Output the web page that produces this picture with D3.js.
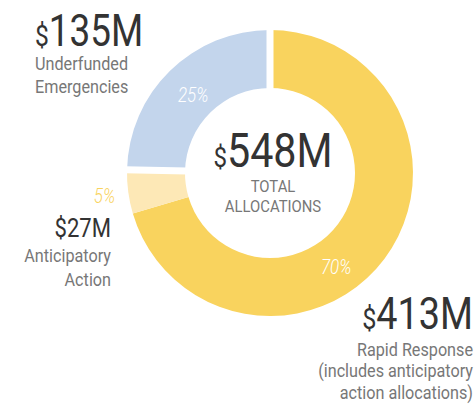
<!DOCTYPE html>
<html>
<head>
<meta charset="utf-8">
<script src="https://cdn.jsdelivr.net/npm/d3@7"></script>
<style>
  body { margin: 0; background: #fff; }
  text { font-family: Roboto, "Open Sans", sans-serif; }
</style>
</head>
<body>
<div id="my-chart"></div>
<script>
// slices of the ring (millions); rapid response shown here without the anticipatory part
var categories = ["Rapid Response", "Anticipatory Action", "Underfunded Emergencies"];
var sliceValues = [386, 27, 135];
var shares = [70, 5, 25];
// amounts written in the labels (rapid response includes anticipatory action)
var amounts = [413, 27, 135];
var total = 548;

var width = 474, height = 406;
var cx = 270, cy = 173;
var outerR = 143, innerR = 85;
var squeeze = 0.85;   // fake a condensed face with Roboto
var colors = ["#F9D35E", "#FDE8B6", "#C3D5EC"];

var svg = d3.select('#my-chart').append('svg')
    .attr('width', width)
    .attr('height', height);

var ring = svg.append('g').attr('transform', 'translate(' + cx + ',' + cy + ')');

var pie = d3.pie().sort(null)(sliceValues);
var arc = d3.arc().innerRadius(innerR).outerRadius(outerR);

ring.selectAll('path')
    .data(pie)
    .enter().append('path')
    .attr('d', arc)
    .style('fill', function(d, i) { return colors[i]; });

// white gaps either side of the blue slice
var blue = pie[2];
[blue.startAngle, blue.endAngle].forEach(function(a) {
  ring.append('line')
    .attr('x1', Math.sin(a) * (innerR - 2)).attr('y1', -Math.cos(a) * (innerR - 2))
    .attr('x2', Math.sin(a) * (outerR + 2)).attr('y2', -Math.cos(a) * (outerR + 2))
    .style('stroke', '#fff')
    .style('stroke-width', 7);
});

// percent labels
var labelPos = [{f: 0.57, r: 114}, {f: 0.5, r: 167}, {f: 0.5, r: 110}];
var labelColor = ['#fff', '#F9D35E', '#fff'];
pie.forEach(function(d, i) {
  var a = d.startAngle + (d.endAngle - d.startAngle) * labelPos[i].f;
  var x = cx + Math.sin(a) * labelPos[i].r;
  var y = cy - Math.cos(a) * labelPos[i].r;
  svg.append('g').attr('transform', 'translate(' + x + ',' + (y + 8) + ') scale(' + squeeze + ',1)')
    .append('text')
    .attr('text-anchor', 'middle')
    .style('font-size', '20px')
    .style('font-style', 'italic')
    .style('font-weight', 300)
    .style('fill', labelColor[i])
    .text(shares[i] + '%');
});

// helper: amount with a small dollar sign
function money(x, y, anchor, value, big, small, sq) {
  var t = svg.append('g').attr('transform', 'translate(' + x + ',' + y + ') scale(' + sq + ',1)')
    .append('text')
    .attr('text-anchor', anchor)
    .style('fill', '#333');
  t.append('tspan').style('font-size', small + 'px').text('$');
  t.append('tspan').style('font-size', big + 'px').text(value + 'M');
}

function lines(x, y, anchor, rows, size, gap) {
  var t = svg.append('g').attr('transform', 'translate(' + x + ',' + y + ') scale(0.9,1)')
    .append('text')
    .attr('text-anchor', anchor)
    .style('font-size', size + 'px')
    .style('fill', '#777');
  rows.forEach(function(r, k) {
    t.append('tspan').attr('x', 0).attr('dy', k ? gap : 0).text(r);
  });
}

// centre
money(273, 167, 'middle', total, 48, 28, 0.86);
lines(273, 192, 'middle', ['TOTAL', 'ALLOCATIONS'], 16.5, 20);

// underfunded
money(35, 46, 'start', amounts[2], 45, 30, 0.82);
lines(35, 70, 'start', ['Underfunded', 'Emergencies'], 18, 23);

// anticipatory
money(111, 237, 'end', amounts[1], 26, 26, 0.85);
lines(111, 262, 'end', ['Anticipatory', 'Action'], 18, 24);

// rapid response
money(473, 329, 'end', amounts[0], 45, 30, 0.84);
lines(473, 356, 'end', ['Rapid Response', '(includes anticipatory', 'action allocations)'], 18, 21.5);
</script>
</body>
</html>
